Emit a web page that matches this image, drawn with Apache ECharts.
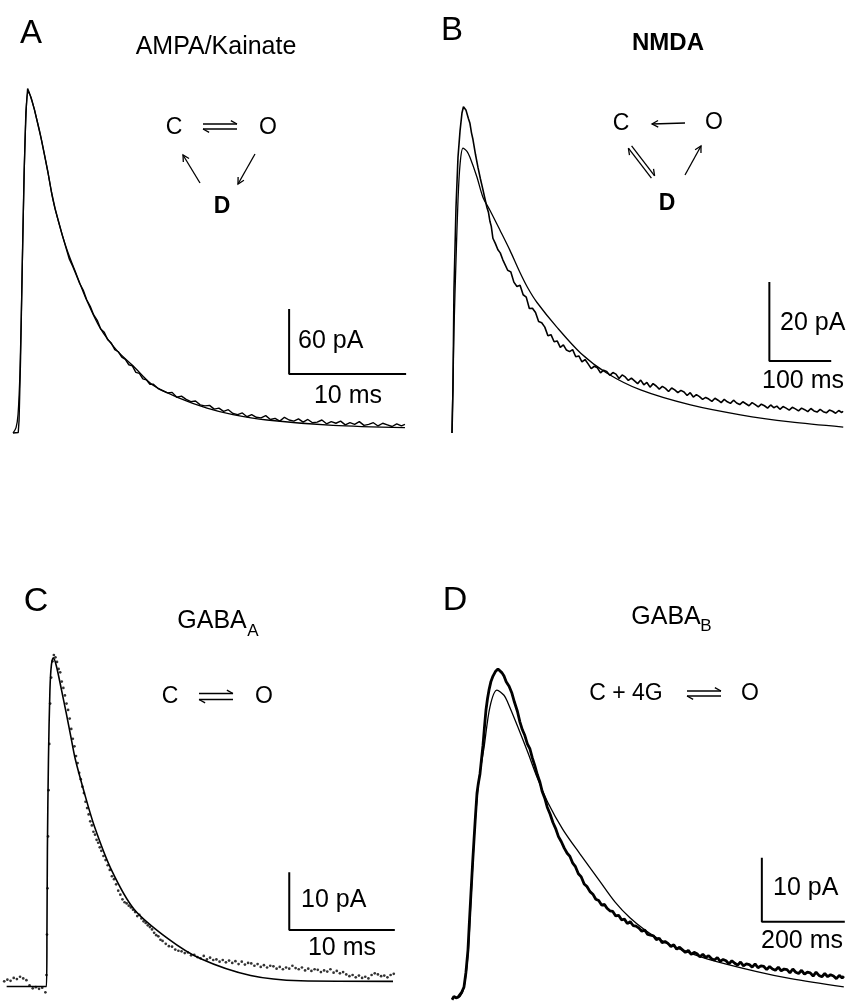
<!DOCTYPE html>
<html>
<head>
<meta charset="utf-8">
<title>Kinetic models of synaptic currents</title>
<script src="https://cdn.jsdelivr.net/npm/echarts@6/dist/echarts.min.js"></script>
<style>
  html, body { margin: 0; background: #fff; }
  #chart { width: 848px; height: 1001px; }
</style>
</head>
<body>
<div id="chart"></div>
<script>
// ---- data: time (ms), current (pA) ----

// A  AMPA/Kainate
const fitA = [[0,0],[0.26,5],[0.43,17],[0.6,58],[0.77,141],[0.94,233],[1.11,293],[1.28,315],[1.54,310],[1.88,296],[2.31,277],[2.91,245],[3.42,215],[4.02,190],[4.62,169],[5.47,145],[6.32,122],[7.44,97],[8.89,76],[10.26,62],[11.97,44],[14.27,32],[16.58,23],[18.8,17],[21.71,12],[27.35,7],[33.5,5]];
const recA = [[0,0],[0.45,0.5],[0.52,12],[0.65,70],[0.8,160],[0.95,240],[1.1,296],[1.25,318],[1.4,314],[1.6,307],[1.85,298],[2.1,286],[2.4,272],[2.7,256],[3.0,240],[3.3,222],[3.6,207],[3.9,195],[4.2,183],[4.5,172],[4.8,161],[5.1,154],[5.4,146],[5.7,138],[6.0,132],[6.3,123],[6.6,117],[6.9,109],[7.2,104],[7.5,96],[7.8,93],[8.1,86],[8.4,83],[8.7,77],[9.0,75],[9.3,70],[9.6,68],[9.9,63],[10.2,62],[10.5,56],[10.8,55],[11.1,50],[11.4,49],[11.7,45],[12.0,45],[12.4,41],[12.8,39],[13.2,37],[13.6,37.5],[14.0,33],[14.4,34],[14.8,31],[15.2,29],[15.6,29.5],[16.0,26],[16.4,25],[16.8,25.5],[17.2,22],[17.6,23],[18.0,20],[18.4,21.5],[18.8,18],[19.2,17],[19.6,18.5],[20.0,15],[20.4,17],[20.8,14.5],[21.2,14],[21.6,16],[22.0,12.5],[22.4,13.5],[22.8,11],[23.2,14.5],[23.6,12],[24.0,11],[24.4,13],[24.8,10],[25.2,12.5],[25.6,9.5],[26.0,10],[26.4,12],[26.8,8.5],[27.2,10.5],[27.6,9],[28.0,11],[28.4,7.5],[28.8,9.5],[29.2,8],[29.6,10.5],[30.0,7],[30.4,8],[30.8,9.5],[31.2,6.5],[31.6,9],[32.0,7.5],[32.4,6],[32.8,8.5],[33.2,6.5],[33.5,8]];
const barA = { t: 23.6, i: 54.5, dt: 10, di: 60 };

// B  NMDA
const fitB = [[0,0],[1.6,13.4],[3.2,26.1],[6.5,43.8],[9.7,58.9],[12.9,67.8],[17.7,72.1],[24.2,71.3],[29,69.8],[40.3,64.8],[50,59.7],[61.3,56.4],[77.4,51.4],[93.5,46.3],[109.7,40.7],[122.6,36.7],[137.1,33.1],[169.4,26.8],[208.1,20.2],[250,15.2],[304.8,10.9],[385.5,7.1],[466.1,4.6],[546.8,2.8],[632.3,1.5]];
const recB = [[0,0],[1.6,10.9],[3.2,36.2],[6.5,57.2],[9.7,69.8],[13,76.5],[16.1,81],[18.5,82.6],[21,83],[22.5,81.8],[24.2,81.9],[26.5,79.6],[29,78.4],[31.5,76],[33.9,74.3],[38,70.5],[41.9,67.3],[46,64.3],[50,61.6],[53,59.5],[56.5,57.1],[59,55.8],[61.3,53.6],[63.5,52.3],[66.1,49.3],[70,48],[74.2,46.4],[78,45.6],[82,43.9],[85,44.3],[90,41.2],[95,40.8],[100,38.2],[105,37.1],[110,37.4],[115,35],[120,34.4],[125,31.5],[130,31.6],[135,30.5],[140,28.2],[145,27.9],[150,26.8],[155,24.6],[160,24.9],[165,23.1],[170,23.3],[175,21.7],[180,22.3],[185,21],[190,20.6],[195,21.1],[200,19.3],[205,19.5],[210,18],[215,18.6],[220,17.5],[225,16.3],[230,16.9],[235,16.5],[240,15.2],[245,15.9],[250,15.6],[255,14.6],[260,15.3],[265,14.9],[270,13.8],[275,14.7],[280,14.2],[285,13.3],[290,13.9],[295,13.2],[300,12.5],[305,13.4],[310,12.2],[315,12.8],[320,11.6],[325,12.5],[330,11.9],[335,11.1],[340,11.8],[345,11.3],[350,10.5],[355,11.4],[360,10.9],[365,10.2],[370,10.8],[375,10.4],[380,9.5],[385,10.2],[390,9.1],[395,9.7],[400,9.2],[405,8.5],[410,9],[415,8.6],[420,8],[425,8.8],[430,8.3],[435,7.7],[440,8.5],[445,7.9],[450,7.5],[455,8.3],[460,7.6],[465,7.2],[470,7.9],[475,7.4],[480,6.9],[485,7.7],[490,7.2],[495,6.6],[500,7.3],[505,6.9],[510,6.3],[515,7.1],[520,6.4],[525,6.8],[530,6],[535,6.7],[540,6.3],[545,5.8],[550,6.5],[555,6.1],[560,5.6],[565,6.3],[570,5.9],[575,5.4],[580,6.2],[585,5.6],[590,5.3],[595,6],[600,5.4],[605,5.1],[610,5.8],[615,5.5],[620,5],[625,5.7],[630,5.2],[632,5.5]];
const barB = { t: 512.9, i: 18.2, dt: 100, di: 20 };

// C  GABA-A (recording shown as dots)
const fitC = [[-3.77,0],[0,0],[0.05,10],[0.09,23.8],[0.19,39.3],[0.33,51.4],[0.47,55.7],[0.66,56.9],[0.94,55.5],[1.42,51.4],[1.89,47.2],[2.36,42.8],[2.74,39.3],[3.58,33.6],[4.53,27.8],[6.13,20.3],[8.3,13.4],[11.51,8.3],[14.62,4.8],[19.34,1.9],[24.06,1.0],[32.83,0.9]];
const recC = [[-4.0,0.9],[-3.7,1.2],[-3.4,1.0],[-3.1,1.5],[-2.8,1.3],[-2.5,1.7],[-2.2,1.4],[-1.9,1.1],[-1.6,0.2],[-1.3,-0.3],[-1.0,-0.1],[-0.7,-0.4],[-0.4,-0.2],[-0.1,-1.0],[0,2],[0.05,9],[0.1,17],[0.15,26],[0.2,34],[0.27,42],[0.35,49],[0.45,53.5],[0.57,56.3],[0.7,57.4],[0.85,57],[1.0,56.2],[1.15,55],[1.3,54.4],[1.45,52.8],[1.6,51.7],[1.75,50.4],[1.9,49],[2.05,47.9],[2.2,46.4],[2.35,44.6],[2.5,42.9],[2.65,41.6],[2.8,39.9],[2.95,38.7],[3.1,37],[3.25,35.9],[3.4,34.6],[3.55,33.5],[3.7,32],[3.85,30.9],[4.0,29.8],[4.15,28.6],[4.3,27.9],[4.45,26.8],[4.6,26.3],[4.75,25.4],[4.9,24.9],[5.05,24.1],[5.2,23.5],[5.4,22.6],[5.6,21.9],[5.8,21],[6.0,20.2],[6.2,19.1],[6.4,18.6],[6.6,17.7],[6.8,16.6],[7.0,15.9],[7.2,15.1],[7.4,14.6],[7.6,14.4],[7.8,14],[8.0,13.7],[8.2,13.3],[8.4,12.9],[8.6,12.2],[8.8,12.4],[9.0,11.8],[9.2,11.3],[9.4,11],[9.6,10.6],[9.8,10.3],[10.0,9.9],[10.2,9.3],[10.4,8.9],[10.6,8.7],[10.8,8.1],[11.0,7.9],[11.3,7.4],[11.6,7],[11.9,6.9],[12.2,6.4],[12.5,6.2],[12.8,6.1],[13.1,5.8],[13.4,5.9],[13.7,5.4],[14.0,5.5],[14.3,5.1],[14.6,4.9],[14.9,5.3],[15.2,4.7],[15.5,5],[15.8,4.6],[16.1,4.7],[16.4,4.3],[16.7,4.6],[17.0,4.2],[17.3,4.5],[17.6,4.1],[17.9,4.4],[18.2,3.9],[18.5,4.3],[18.8,3.8],[19.1,4.1],[19.4,4],[19.7,3.6],[20.0,3.9],[20.3,3.4],[20.6,3.7],[20.9,3.3],[21.2,3.6],[21.5,3.5],[21.8,3.1],[22.1,3.4],[22.4,3],[22.7,3.3],[23.0,3.1],[23.3,3.6],[23.6,3.2],[23.9,3],[24.2,3.3],[24.5,2.8],[24.8,3.1],[25.1,2.7],[25.4,3],[25.7,2.9],[26.0,2.5],[26.3,2.8],[26.6,2.6],[26.9,3],[27.2,2.4],[27.5,2.7],[27.8,2.3],[28.1,2.5],[28.4,2.1],[28.7,1.8],[29.0,2],[29.3,1.6],[29.6,1.9],[29.9,1.5],[30.2,1.7],[30.5,1.4],[30.8,2],[31.1,2.3],[31.4,2.1],[31.7,1.8],[32.0,1.9],[32.3,1.6],[32.6,2],[32.9,2.2]];
const barC = { t: 23.0, i: 9.8, dt: 10, di: 10 };

// D  GABA-B
const fitD = [[0,0],[9.6,0.2],[19.3,1.6],[28.9,6.7],[36.1,15.3],[45.8,27],[55.4,34.1],[67.5,39.1],[81.9,45.5],[98.8,48.1],[115.7,47.3],[125.3,46.1],[149.4,42.3],[173.5,38.3],[195.2,34.5],[221.7,30.5],[257.8,26.3],[298.8,22.5],[347,18.2],[383.1,15.0],[419.3,12.5],[455.4,10.6],[491.6,9.1],[539.8,7.6],[604.8,6.1],[725.3,4.1],[807.2,3],[934.9,1.7]];
const recD = [[-9.6,-0.3],[-5,0.2],[0,0],[5,0.1],[9.6,0.3],[14,0.9],[19.3,1.7],[24,4],[28.9,7.5],[32,11.5],[36.1,16.4],[40,21],[43.4,24.7],[47,28.5],[50.6,32],[54,33.6],[57.8,35],[61,37],[65.1,39.5],[69,42.6],[72.3,45],[76,46.8],[79.5,48.1],[84,49.4],[89.2,50.3],[95,51],[101.2,51.4],[106,51.2],[111,50.8],[115.7,50.3],[121,49.4],[128,48.7],[134.9,47.6],[141,46.2],[148,44.8],[154.2,43.1],[160,41.9],[166,41],[172,39.7],[178.3,38.9],[184,37.5],[190,36.3],[196,34.9],[202.4,33.7],[208,32.2],[214,31.2],[220,29.8],[227,28.7],[233.7,27.4],[240,26.5],[247,25.2],[254,24.4],[261,23.4],[268,22.6],[274.7,22.1],[281,21.1],[288,20.5],[295,19.4],[302,18.9],[309,17.8],[315.7,17.4],[323,16.6],[330,16.2],[337,15.4],[344,15.2],[351,14.5],[358,14.6],[364,14],[371,13.6],[378,13.5],[385,12.8],[392,12.9],[399,12.2],[406,12.3],[413,11.6],[420,11.9],[427,11.3],[434,11.2],[441,10.9],[448,10.4],[455,10.6],[462,9.9],[469,9.8],[476,9.7],[483,9.1],[490,9.3],[497,8.6],[504,8.8],[511,8.5],[518,8],[525,8.3],[532,7.6],[539,7.9],[546,7.5],[553,7.1],[560,7.4],[567,6.8],[574,7.1],[581,6.9],[588,6.4],[595,6.8],[602,6.3],[609,6.6],[616,6.1],[623,5.9],[630,6.3],[637,5.7],[644,6],[651,5.8],[658,5.3],[665,5.8],[672,5.4],[679,5.1],[686,5.6],[693,5],[700,5.3],[707,5.2],[714,4.8],[721,5.3],[728,4.7],[735,5],[742,4.9],[749,4.4],[756,4.9],[763,4.5],[770,4.3],[777,4.8],[784,4.2],[791,4.5],[798,4.4],[805,3.9],[812,4.5],[819,4],[826,3.8],[833,4.3],[840,3.7],[847,4],[854,3.9],[861,3.4],[868,4],[875,3.5],[882,3.3],[889,3.8],[896,3.3],[903,3.6],[910,3.4],[917,3],[924,3.5],[931,3.1],[935,3.4]];
const barD = { t: 737.3, i: 11.9, dt: 200, di: 10 };

// ---- layout: where t=0 / I=0 sits on the page and pixels per unit ----
const panels = [
  { x0: 13,  y0: 433, kx: 11.7,  ky: 65 / 60, xMin: -0.5, xMax: 34,  yMin: -5,   yMax: 322 },
  { x0: 452, y0: 433, kx: 0.62,  ky: 79 / 20, xMin: -5,   xMax: 640, yMin: -1,   yMax: 86 },
  { x0: 45,  y0: 988, kx: 10.6,  ky: 5.8,     xMin: -4.4, xMax: 33.5, yMin: -2.5, yMax: 60 },
  { x0: 456, y0: 998, kx: 0.415, ky: 6.4,     xMin: -12,  xMax: 945, yMin: -0.5, yMax: 53 }
];

const FONT = '"Liberation Sans", Arial, Helvetica, sans-serif';

const grids = [], xAxes = [], yAxes = [];
panels.forEach((p, k) => {
  grids.push({
    left: p.x0 + p.xMin * p.kx,
    top: p.y0 - p.yMax * p.ky,
    width: (p.xMax - p.xMin) * p.kx,
    height: (p.yMax - p.yMin) * p.ky
  });
  xAxes.push({ gridIndex: k, type: 'value', min: p.xMin, max: p.xMax, show: false });
  yAxes.push({ gridIndex: k, type: 'value', min: p.yMin, max: p.yMax, show: false });
});

function lineSeries(k, data, width, smooth) {
  return {
    type: 'line', xAxisIndex: k, yAxisIndex: k, data: data,
    symbol: 'none', smooth: smooth || false, silent: true,
    lineStyle: { color: '#000', width: width }
  };
}

function barSeries(k, b) {
  // L-shaped scale bar
  return lineSeries(k, [[b.t + b.dt, b.i], [b.t, b.i], [b.t, b.i + b.di]], 2);
}

const series = [
  lineSeries(0, fitA, 1.3, 0.3),
  lineSeries(0, recA, 1.4),
  barSeries(0, barA),

  lineSeries(1, fitB, 1.3, 0.3),
  lineSeries(1, recB, 1.6),
  barSeries(1, barB),

  lineSeries(2, fitC, 1.6, 0.3),
  {
    type: 'scatter', xAxisIndex: 2, yAxisIndex: 2, data: recC,
    symbolSize: 2.7, silent: true, itemStyle: { color: '#000' }
  },
  barSeries(2, barC),

  lineSeries(3, fitD, 1.3, 0.3),
  lineSeries(3, recD, 2.8),
  barSeries(3, barD)
];

// ---- text and kinetic schemes ----
function txt(x, y, s, size, weight, align) {
  return {
    type: 'text', x: x, y: y, silent: true,
    style: {
      text: s, fill: '#000', fontFamily: FONT, fontSize: size,
      fontWeight: weight || 'normal', align: align || 'center', verticalAlign: 'middle'
    }
  };
}

function seg(x1, y1, x2, y2) {
  return { type: 'line', silent: true, shape: { x1, y1, x2, y2 }, style: { stroke: '#000', lineWidth: 1.3 } };
}

// barb(s) at (x2, y2); both = full arrowhead, otherwise a harpoon
function arrow(x1, y1, x2, y2, both) {
  const len = Math.hypot(x2 - x1, y2 - y1);
  const ux = (x2 - x1) / len, uy = (y2 - y1) / len;
  const L = 7, c = Math.cos(0.5), s = Math.sin(0.5);
  const b1 = [x2 - L * (ux * c - uy * s), y2 - L * (uy * c + ux * s)];
  const b2 = [x2 - L * (ux * c + uy * s), y2 - L * (uy * c - ux * s)];
  const pts = both ? [b1, [x2, y2], b2] : [b1, [x2, y2]];
  return [
    seg(x1, y1, x2, y2),
    { type: 'polyline', silent: true, shape: { points: pts }, style: { stroke: '#000', lineWidth: 1.3, fill: null } }
  ];
}

function equilibrium(xa, xb, yTop, yBot) {
  return arrow(xa, yTop, xb, yTop, false).concat(arrow(xb, yBot, xa, yBot, false));
}

const graphics = [
  // panel A
  txt(31, 34, 'A', 33),
  txt(216, 47, 'AMPA/Kainate', 25),
  txt(174, 128, 'C', 23),
  txt(268, 128, 'O', 23),
  txt(222, 207, 'D', 23, 'bold'),
  ...equilibrium(203, 237, 124, 129),
  ...arrow(200, 183, 183, 155, true),
  ...arrow(255, 154, 238, 184, true),
  txt(298, 341, '60 pA', 25, 'normal', 'left'),
  txt(348, 396, '10 ms', 25),

  // panel B
  txt(452, 31, 'B', 33),
  txt(668, 43, 'NMDA', 24, 'bold'),
  txt(621, 124, 'C', 23),
  txt(714, 123, 'O', 23),
  txt(667, 204, 'D', 23, 'bold'),
  ...arrow(685, 123, 652, 124, true),
  ...arrow(651.4, 178.2, 628.4, 148.2, false),
  ...arrow(631.6, 145.8, 654.6, 175.8, false),
  ...arrow(685, 175, 701, 146, true),
  txt(780, 323, '20 pA', 25, 'normal', 'left'),
  txt(803, 381, '100 ms', 25),

  // panel C
  txt(36, 602, 'C', 34),
  txt(212, 621, 'GABA', 25),
  txt(253, 631, 'A', 17),
  txt(170, 697, 'C', 23),
  txt(264, 697, 'O', 23),
  ...equilibrium(199, 233, 693.5, 699.5),
  txt(301, 900, '10 pA', 25, 'normal', 'left'),
  txt(342, 948, '10 ms', 25),

  // panel D
  txt(455, 601, 'D', 34),
  txt(666, 617, 'GABA', 25),
  txt(706, 626, 'B', 17),
  txt(626, 694, 'C + 4G', 23),
  txt(750, 694, 'O', 23),
  ...equilibrium(687, 721, 691, 696),
  txt(773, 888, '10 pA', 25, 'normal', 'left'),
  txt(802, 941, '200 ms', 25)
];

const chart = echarts.init(document.getElementById('chart'));
chart.setOption({
  animation: false,
  backgroundColor: '#fff',
  grid: grids,
  xAxis: xAxes,
  yAxis: yAxes,
  series: series,
  graphic: { elements: graphics }
});
</script>
</body>
</html>
